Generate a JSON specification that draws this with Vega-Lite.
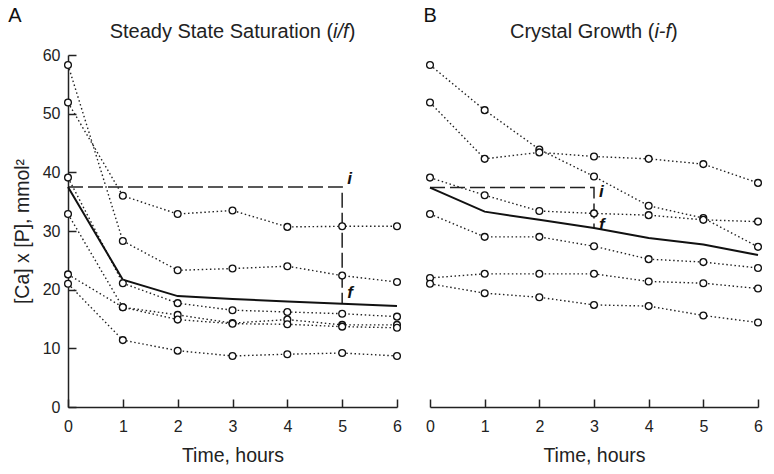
{
  "$schema": "https://vega.github.io/schema/vega-lite/v6.json",
  "padding": {"left": 8, "top": 6, "right": 5, "bottom": 5},
  "background": "white",
  "spacing": 20,
  "config": {
    "font": "Liberation Sans",
    "view": {"stroke": null},
    "axis": {
      "grid": false,
      "domainColor": "#222",
      "domainWidth": 1.5,
      "tickColor": "#222",
      "tickWidth": 1.5,
      "tickSize": -8,
      "labelFont": "Liberation Sans",
      "labelFontSize": 16,
      "labelColor": "#222",
      "titleFont": "Liberation Sans",
      "titleFontSize": 19.5,
      "titleFontWeight": "normal",
      "titleColor": "#222"
    }
  },
  "datasets": {
    "pts": [
      {"p": "A", "s": 1, "t": 0, "v": 58.3}, {"p": "A", "s": 1, "t": 1, "v": 28.3}, {"p": "A", "s": 1, "t": 2, "v": 23.3}, {"p": "A", "s": 1, "t": 3, "v": 23.6}, {"p": "A", "s": 1, "t": 4, "v": 24.0}, {"p": "A", "s": 1, "t": 5, "v": 22.4}, {"p": "A", "s": 1, "t": 6, "v": 21.3},
      {"p": "A", "s": 2, "t": 0, "v": 51.9}, {"p": "A", "s": 2, "t": 1, "v": 36.0}, {"p": "A", "s": 2, "t": 2, "v": 32.9}, {"p": "A", "s": 2, "t": 3, "v": 33.5}, {"p": "A", "s": 2, "t": 4, "v": 30.7}, {"p": "A", "s": 2, "t": 5, "v": 30.8}, {"p": "A", "s": 2, "t": 6, "v": 30.8},
      {"p": "A", "s": 3, "t": 0, "v": 39.1}, {"p": "A", "s": 3, "t": 1, "v": 21.1}, {"p": "A", "s": 3, "t": 2, "v": 17.7}, {"p": "A", "s": 3, "t": 3, "v": 16.5}, {"p": "A", "s": 3, "t": 4, "v": 16.2}, {"p": "A", "s": 3, "t": 5, "v": 15.9}, {"p": "A", "s": 3, "t": 6, "v": 15.4},
      {"p": "A", "s": 4, "t": 0, "v": 32.9}, {"p": "A", "s": 4, "t": 1, "v": 17.0}, {"p": "A", "s": 4, "t": 2, "v": 15.7}, {"p": "A", "s": 4, "t": 3, "v": 14.3}, {"p": "A", "s": 4, "t": 4, "v": 14.9}, {"p": "A", "s": 4, "t": 5, "v": 14.0}, {"p": "A", "s": 4, "t": 6, "v": 14.0},
      {"p": "A", "s": 5, "t": 0, "v": 22.6}, {"p": "A", "s": 5, "t": 1, "v": 17.0}, {"p": "A", "s": 5, "t": 2, "v": 14.9}, {"p": "A", "s": 5, "t": 3, "v": 14.2}, {"p": "A", "s": 5, "t": 4, "v": 14.1}, {"p": "A", "s": 5, "t": 5, "v": 13.7}, {"p": "A", "s": 5, "t": 6, "v": 13.5},
      {"p": "A", "s": 6, "t": 0, "v": 21.0}, {"p": "A", "s": 6, "t": 1, "v": 11.4}, {"p": "A", "s": 6, "t": 2, "v": 9.6}, {"p": "A", "s": 6, "t": 3, "v": 8.7}, {"p": "A", "s": 6, "t": 4, "v": 9.0}, {"p": "A", "s": 6, "t": 5, "v": 9.2}, {"p": "A", "s": 6, "t": 6, "v": 8.7},
      {"p": "B", "s": 1, "t": 0, "v": 58.3}, {"p": "B", "s": 1, "t": 1, "v": 50.6}, {"p": "B", "s": 1, "t": 2, "v": 43.9}, {"p": "B", "s": 1, "t": 3, "v": 39.3}, {"p": "B", "s": 1, "t": 4, "v": 34.3}, {"p": "B", "s": 1, "t": 5, "v": 32.2}, {"p": "B", "s": 1, "t": 6, "v": 27.3},
      {"p": "B", "s": 2, "t": 0, "v": 51.9}, {"p": "B", "s": 2, "t": 1, "v": 42.3}, {"p": "B", "s": 2, "t": 2, "v": 43.4}, {"p": "B", "s": 2, "t": 3, "v": 42.7}, {"p": "B", "s": 2, "t": 4, "v": 42.3}, {"p": "B", "s": 2, "t": 5, "v": 41.4}, {"p": "B", "s": 2, "t": 6, "v": 38.2},
      {"p": "B", "s": 3, "t": 0, "v": 39.1}, {"p": "B", "s": 3, "t": 1, "v": 36.1}, {"p": "B", "s": 3, "t": 2, "v": 33.4}, {"p": "B", "s": 3, "t": 3, "v": 33.0}, {"p": "B", "s": 3, "t": 4, "v": 32.7}, {"p": "B", "s": 3, "t": 5, "v": 31.9}, {"p": "B", "s": 3, "t": 6, "v": 31.6},
      {"p": "B", "s": 4, "t": 0, "v": 32.9}, {"p": "B", "s": 4, "t": 1, "v": 29.0}, {"p": "B", "s": 4, "t": 2, "v": 29.0}, {"p": "B", "s": 4, "t": 3, "v": 27.4}, {"p": "B", "s": 4, "t": 4, "v": 25.2}, {"p": "B", "s": 4, "t": 5, "v": 24.7}, {"p": "B", "s": 4, "t": 6, "v": 23.7},
      {"p": "B", "s": 5, "t": 0, "v": 22.0}, {"p": "B", "s": 5, "t": 1, "v": 22.7}, {"p": "B", "s": 5, "t": 2, "v": 22.7}, {"p": "B", "s": 5, "t": 3, "v": 22.7}, {"p": "B", "s": 5, "t": 4, "v": 21.4}, {"p": "B", "s": 5, "t": 5, "v": 21.1}, {"p": "B", "s": 5, "t": 6, "v": 20.2},
      {"p": "B", "s": 6, "t": 0, "v": 21.0}, {"p": "B", "s": 6, "t": 1, "v": 19.4}, {"p": "B", "s": 6, "t": 2, "v": 18.7}, {"p": "B", "s": 6, "t": 3, "v": 17.4}, {"p": "B", "s": 6, "t": 4, "v": 17.2}, {"p": "B", "s": 6, "t": 5, "v": 15.6}, {"p": "B", "s": 6, "t": 6, "v": 14.4}
    ],
    "means": [
      {"p": "A", "t": 0, "v": 37.5}, {"p": "A", "t": 1, "v": 21.7}, {"p": "A", "t": 2, "v": 18.9}, {"p": "A", "t": 3, "v": 18.4}, {"p": "A", "t": 4, "v": 18.0}, {"p": "A", "t": 5, "v": 17.6}, {"p": "A", "t": 6, "v": 17.2},
      {"p": "B", "t": 0, "v": 37.4}, {"p": "B", "t": 1, "v": 33.3}, {"p": "B", "t": 2, "v": 31.9}, {"p": "B", "t": 3, "v": 30.5}, {"p": "B", "t": 4, "v": 28.8}, {"p": "B", "t": 5, "v": 27.7}, {"p": "B", "t": 6, "v": 25.9}
    ],
    "guides": [
      {"p": "A", "o": 1, "t": 0, "v": 37.5}, {"p": "A", "o": 2, "t": 5, "v": 37.5}, {"p": "A", "o": 3, "t": 5, "v": 17.6},
      {"p": "B", "o": 1, "t": 0, "v": 37.4}, {"p": "B", "o": 2, "t": 3, "v": 37.4}, {"p": "B", "o": 3, "t": 3, "v": 30.5}
    ],
    "marks": [
      {"p": "A", "t": 5, "v": 38.0, "txt": "i"}, {"p": "A", "t": 5, "v": 18.6, "txt": "f"},
      {"p": "B", "t": 3, "v": 35.8, "txt": "i"}, {"p": "B", "t": 3, "v": 30.2, "txt": "f"}
    ],
    "letters": [
      {"p": "A", "t": -1.09, "v": 65.6, "txt": "A"},
      {"p": "B", "t": -0.12, "v": 65.6, "txt": "B"}
    ],
    "titleMain": [
      {"p": "A", "t": 4.835, "v": 62.9, "txt": "Steady State Saturation ("},
      {"p": "B", "t": 4.105, "v": 62.9, "txt": "Crystal Growth ("}
    ],
    "titleItal": [
      {"p": "A", "t": 4.835, "v": 62.9, "txt": "i/f"},
      {"p": "B", "t": 4.105, "v": 62.9, "txt": "i-f"}
    ],
    "titleEnd": [
      {"p": "A", "t": 5.12, "v": 62.9, "txt": ")"},
      {"p": "B", "t": 4.41, "v": 62.9, "txt": ")"}
    ]
  },
  "hconcat": [
    {
      "width": 329,
      "height": 352,
      "encoding": {
        "x": {"field": "t", "type": "quantitative", "scale": {"domain": [0, 6], "nice": false, "zero": false},
              "axis": {"values": [0, 1, 2, 3, 4, 5, 6], "title": "Time, hours", "labelPadding": 19, "titlePadding": 12, "labelFlush": false}},
        "y": {"field": "v", "type": "quantitative", "scale": {"domain": [0, 60], "nice": false, "zero": false},
              "axis": {"values": [0, 10, 20, 30, 40, 50, 60], "title": "[Ca] x [P], mmol²", "labelPadding": 16, "titlePadding": 10}}
      },
      "layer": [
        {"data": {"name": "guides"}, "transform": [{"filter": "datum.p === 'A'"}],
         "mark": {"type": "line", "color": "#222", "strokeWidth": 1.5, "strokeDash": [15, 5]},
         "encoding": {"order": {"field": "o", "type": "quantitative"}}},
        {"data": {"name": "pts"}, "transform": [{"filter": "datum.p === 'A'"}],
         "mark": {"type": "line", "color": "#222", "strokeWidth": 1.4, "strokeDash": [1.5, 2.6]},
         "encoding": {"detail": {"field": "s", "type": "nominal"}}},
        {"data": {"name": "means"}, "transform": [{"filter": "datum.p === 'A'"}],
         "mark": {"type": "line", "color": "#111", "strokeWidth": 2}},
        {"data": {"name": "pts"}, "transform": [{"filter": "datum.p === 'A'"}],
         "mark": {"type": "point", "shape": "circle", "size": 46, "filled": false, "fill": "white", "stroke": "#111", "strokeWidth": 1.3, "opacity": 1}},
        {"data": {"name": "marks"}, "transform": [{"filter": "datum.p === 'A'"}],
         "mark": {"type": "text", "align": "left", "baseline": "alphabetic", "dx": 5, "fontSize": 17, "fontStyle": "italic", "fontWeight": "bold", "color": "#111"},
         "encoding": {"text": {"field": "txt"}}},
        {"data": {"name": "letters"}, "transform": [{"filter": "datum.p === 'A'"}],
         "mark": {"type": "text", "align": "left", "baseline": "alphabetic", "fontSize": 20, "color": "#111"},
         "encoding": {"text": {"field": "txt"}}},
        {"data": {"name": "titleMain"}, "transform": [{"filter": "datum.p === 'A'"}],
         "mark": {"type": "text", "align": "right", "baseline": "alphabetic", "fontSize": 20, "color": "#222"},
         "encoding": {"text": {"field": "txt"}}},
        {"data": {"name": "titleItal"}, "transform": [{"filter": "datum.p === 'A'"}],
         "mark": {"type": "text", "align": "left", "baseline": "alphabetic", "fontSize": 20, "fontStyle": "italic", "color": "#222"},
         "encoding": {"text": {"field": "txt"}}},
        {"data": {"name": "titleEnd"}, "transform": [{"filter": "datum.p === 'A'"}],
         "mark": {"type": "text", "align": "left", "baseline": "alphabetic", "fontSize": 20, "color": "#222"},
         "encoding": {"text": {"field": "txt"}}}
      ]
    },
    {
      "width": 328,
      "height": 352,
      "encoding": {
        "x": {"field": "t", "type": "quantitative", "scale": {"domain": [0, 6], "nice": false, "zero": false},
              "axis": {"values": [0, 1, 2, 3, 4, 5, 6], "title": "Time, hours", "labelPadding": 19, "titlePadding": 12, "labelFlush": false}},
        "y": {"field": "v", "type": "quantitative", "scale": {"domain": [0, 60], "nice": false, "zero": false}, "axis": null}
      },
      "layer": [
        {"data": {"name": "guides"}, "transform": [{"filter": "datum.p === 'B'"}],
         "mark": {"type": "line", "color": "#222", "strokeWidth": 1.5, "strokeDash": [15, 5]},
         "encoding": {"order": {"field": "o", "type": "quantitative"}}},
        {"data": {"name": "pts"}, "transform": [{"filter": "datum.p === 'B'"}],
         "mark": {"type": "line", "color": "#222", "strokeWidth": 1.4, "strokeDash": [1.5, 2.6]},
         "encoding": {"detail": {"field": "s", "type": "nominal"}}},
        {"data": {"name": "means"}, "transform": [{"filter": "datum.p === 'B'"}],
         "mark": {"type": "line", "color": "#111", "strokeWidth": 2}},
        {"data": {"name": "pts"}, "transform": [{"filter": "datum.p === 'B'"}],
         "mark": {"type": "point", "shape": "circle", "size": 46, "filled": false, "fill": "white", "stroke": "#111", "strokeWidth": 1.3, "opacity": 1}},
        {"data": {"name": "marks"}, "transform": [{"filter": "datum.p === 'B'"}],
         "mark": {"type": "text", "align": "left", "baseline": "alphabetic", "dx": 5, "fontSize": 17, "fontStyle": "italic", "fontWeight": "bold", "color": "#111"},
         "encoding": {"text": {"field": "txt"}}},
        {"data": {"name": "letters"}, "transform": [{"filter": "datum.p === 'B'"}],
         "mark": {"type": "text", "align": "left", "baseline": "alphabetic", "fontSize": 20, "color": "#111"},
         "encoding": {"text": {"field": "txt"}}},
        {"data": {"name": "titleMain"}, "transform": [{"filter": "datum.p === 'B'"}],
         "mark": {"type": "text", "align": "right", "baseline": "alphabetic", "fontSize": 20, "color": "#222"},
         "encoding": {"text": {"field": "txt"}}},
        {"data": {"name": "titleItal"}, "transform": [{"filter": "datum.p === 'B'"}],
         "mark": {"type": "text", "align": "left", "baseline": "alphabetic", "fontSize": 20, "fontStyle": "italic", "color": "#222"},
         "encoding": {"text": {"field": "txt"}}},
        {"data": {"name": "titleEnd"}, "transform": [{"filter": "datum.p === 'B'"}],
         "mark": {"type": "text", "align": "left", "baseline": "alphabetic", "fontSize": 20, "color": "#222"},
         "encoding": {"text": {"field": "txt"}}}
      ]
    }
  ]
}
